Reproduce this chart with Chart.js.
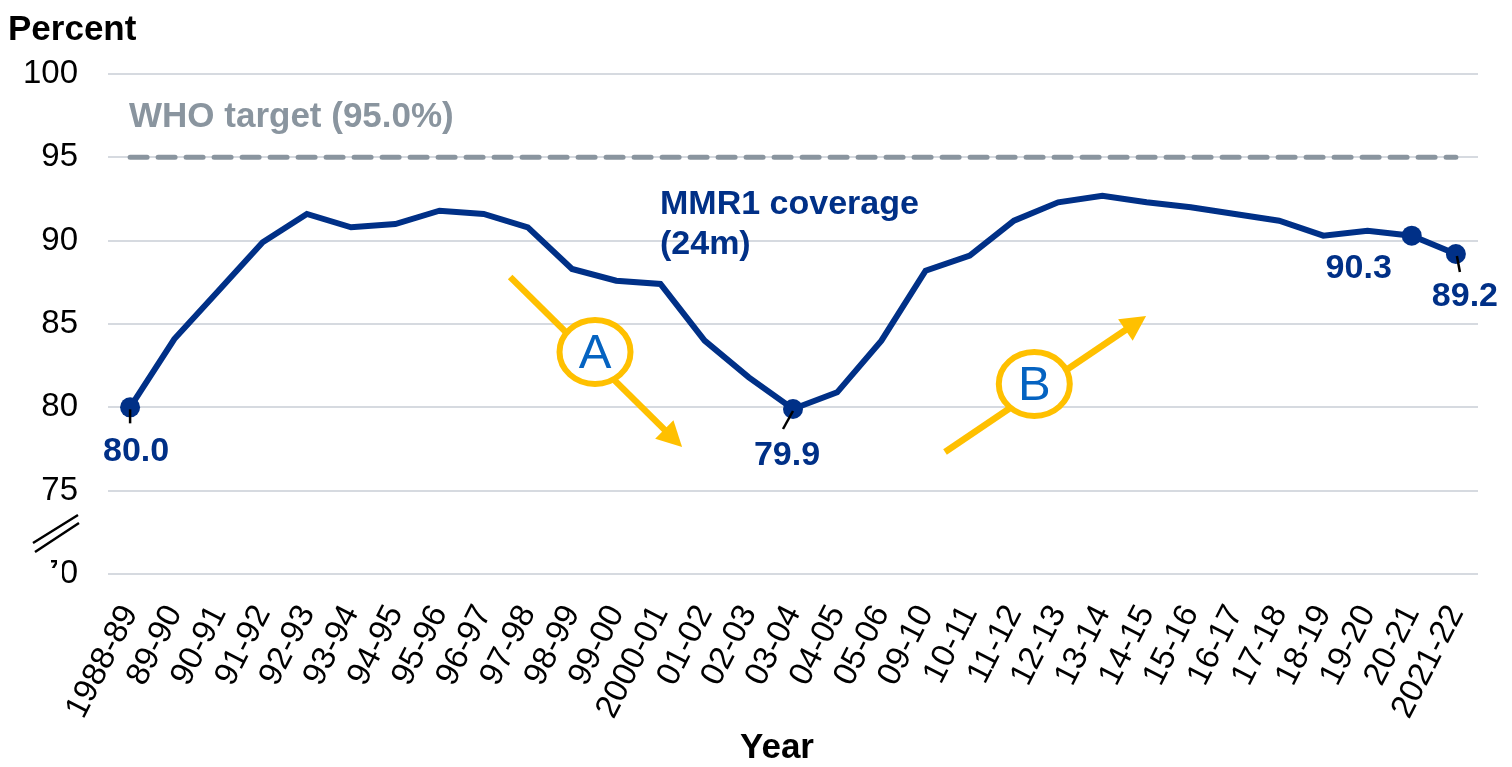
<!DOCTYPE html>
<html>
<head>
<meta charset="utf-8">
<script src="https://cdn.jsdelivr.net/npm/chart.js@4.4.1/dist/chart.umd.min.js"></script>
<style>
  html, body { margin: 0; padding: 0; background: #fff; }
</style>
</head>
<body>
<canvas id="chart" width="1512" height="767"></canvas>
<script>
// data
const years = ['1988-89', '89-90', '90-91', '91-92', '92-93', '93-94', '94-95', '95-96', '96-97', '97-98',
  '98-99', '99-00', '2000-01', '01-02', '02-03', '03-04', '04-05', '05-06', '09-10', '10-11',
  '11-12', '12-13', '13-14', '14-15', '15-16', '16-17', '17-18', '18-19', '19-20', '20-21', '2021-22'];
const coverage = [80.0, 84.1, 87.0, 89.9, 91.6, 90.8, 91.0, 91.8, 91.6, 90.8,
  88.3, 87.6, 87.4, 84.0, 81.8, 79.9, 80.9, 84.0, 88.2, 89.1,
  91.2, 92.3, 92.7, 92.3, 92.0, 91.6, 91.2, 90.3, 90.6, 90.3, 89.2];
const whoTarget = 95.0;
const labelledPoints = [0, 15, 29, 30];
const yMin = 70;
const yMax = 100;
const yStep = 5;

const FONT = "'Liberation Sans', Arial, sans-serif";
const NAVY = '#003087';
const GREY = '#8A959F';
const YELLOW = '#FFC000';
const LETTER_BLUE = '#0563C1';

// where each value label sits relative to its point, plus the short leader line
const labelPlacement = {
  0: { dx: 6, dy: 44, leader: [0, 2, 0, 16] },
  15: { dx: -6, dy: 47, leader: [0, 2, -10, 20] },
  29: { dx: -53, dy: 33, leader: null },
  30: { dx: 9, dy: 43, leader: [1, 2, 4, 18] }
};

// trend arrows, in (category index, percent) coordinates
const trendArrows = [
  { letter: 'A', from: [8.6, 87.82], to: [12.49, 77.62], circle: [10.52, 83.32] },
  { letter: 'B', from: [18.44, 77.32], to: [22.99, 85.48], circle: [20.46, 81.4] }
];

const extrasPlugin = {
  id: 'extras',
  afterDatasetsDraw(chart) {
    const { ctx, scales: { x, y } } = chart;
    const meta = chart.getDatasetMeta(0);
    ctx.save();

    // arrows + lettered circles
    trendArrows.forEach(a => {
      const x1 = x.getPixelForValue(a.from[0]), y1 = y.getPixelForValue(a.from[1]);
      const x2 = x.getPixelForValue(a.to[0]), y2 = y.getPixelForValue(a.to[1]);
      const ang = Math.atan2(y2 - y1, x2 - x1);
      const head = 25, half = 13;
      ctx.strokeStyle = YELLOW;
      ctx.fillStyle = YELLOW;
      ctx.lineWidth = 6.5;
      ctx.beginPath();
      ctx.moveTo(x1, y1);
      ctx.lineTo(x2 - Math.cos(ang) * head * 0.8, y2 - Math.sin(ang) * head * 0.8);
      ctx.stroke();
      ctx.beginPath();
      ctx.moveTo(x2, y2);
      ctx.lineTo(x2 - Math.cos(ang) * head - Math.sin(ang) * half, y2 - Math.sin(ang) * head + Math.cos(ang) * half);
      ctx.lineTo(x2 - Math.cos(ang) * head + Math.sin(ang) * half, y2 - Math.sin(ang) * head - Math.cos(ang) * half);
      ctx.closePath();
      ctx.fill();

      const cx = x.getPixelForValue(a.circle[0]), cy = y.getPixelForValue(a.circle[1]);
      ctx.beginPath();
      ctx.ellipse(cx, cy, 35.5, 32, 0, 0, Math.PI * 2);
      ctx.fillStyle = '#fff';
      ctx.fill();
      ctx.lineWidth = 6;
      ctx.stroke();
      ctx.fillStyle = LETTER_BLUE;
      ctx.font = '49px ' + FONT;
      ctx.textAlign = 'center';
      ctx.textBaseline = 'middle';
      ctx.fillText(a.letter, cx, cy + 2);
    });

    // value labels with leader lines
    labelledPoints.forEach(i => {
      const pt = meta.data[i];
      const p = labelPlacement[i];
      if (p.leader) {
        ctx.strokeStyle = '#000';
        ctx.lineWidth = 2.5;
        ctx.beginPath();
        ctx.moveTo(pt.x + p.leader[0], pt.y + p.leader[1]);
        ctx.lineTo(pt.x + p.leader[2], pt.y + p.leader[3]);
        ctx.stroke();
      }
      ctx.fillStyle = NAVY;
      ctx.font = 'bold 34px ' + FONT;
      ctx.textAlign = 'center';
      ctx.textBaseline = 'middle';
      ctx.fillText(coverage[i].toFixed(1), pt.x + p.dx, pt.y + p.dy);
    });

    // series labels
    ctx.textAlign = 'left';
    ctx.textBaseline = 'middle';
    ctx.font = 'bold 35px ' + FONT;
    ctx.fillStyle = GREY;
    ctx.fillText('WHO target (' + whoTarget.toFixed(1) + '%)', 129, y.getPixelForValue(whoTarget) - 40);
    ctx.fillStyle = NAVY;
    ctx.font = 'bold 34px ' + FONT;
    ctx.fillText('MMR1 coverage', 660, 205);
    ctx.fillText('(24m)', 660, 245);
    ctx.restore();
  },
  afterDraw(chart) {
    const { ctx, scales: { y } } = chart;
    ctx.save();
    // axis titles
    ctx.fillStyle = '#000';
    ctx.font = 'bold 35px ' + FONT;
    ctx.textAlign = 'left';
    ctx.textBaseline = 'middle';
    ctx.fillText('Percent', 8, 30);
    ctx.textAlign = 'center';
    ctx.fillText('Year', 777, 748);

    // axis break: mask most of the bottom tick's first digit, then the double slash
    const y70 = y.getPixelForValue(yMin);
    ctx.fillStyle = '#fff';
    ctx.beginPath();
    ctx.moveTo(36, y70 - 18);
    ctx.lineTo(51, y70 - 18);
    ctx.lineTo(51, y70 - 6);
    ctx.lineTo(57, y70 - 6);
    ctx.lineTo(57, y70 - 18);
    ctx.lineTo(62, y70 - 18);
    ctx.lineTo(62, y70 + 18);
    ctx.lineTo(36, y70 + 18);
    ctx.closePath();
    ctx.fill();
    ctx.strokeStyle = '#000';
    ctx.lineWidth = 2.5;
    ctx.beginPath();
    ctx.moveTo(33, y70 - 31);
    ctx.lineTo(78, y70 - 59);
    ctx.moveTo(35, y70 - 22);
    ctx.lineTo(79, y70 - 51);
    ctx.stroke();
    ctx.restore();
  }
};

new Chart(document.getElementById('chart'), {
  type: 'line',
  data: {
    labels: years,
    datasets: [
      {
        label: 'MMR1 coverage (24m)',
        data: coverage,
        borderColor: NAVY,
        backgroundColor: NAVY,
        borderWidth: 6,
        tension: 0,
        pointRadius: ctx => labelledPoints.includes(ctx.dataIndex) ? 10 : 0,
        pointHoverRadius: 0,
        pointBorderWidth: 0,
        order: 1
      },
      {
        label: 'WHO target',
        data: years.map(() => whoTarget),
        borderColor: GREY,
        borderWidth: 5,
        borderDash: [17, 11],
        borderCapStyle: 'round',
        pointRadius: 0,
        order: 2
      }
    ]
  },
  options: {
    responsive: false,
    animation: false,
    devicePixelRatio: 1,
    layout: { padding: { top: 74, right: 34, left: 0, bottom: 0 } },
    plugins: {
      legend: { display: false },
      tooltip: { enabled: false },
      title: { display: false }
    },
    scales: {
      x: {
        type: 'category',
        offset: true,
        grid: { display: false },
        border: { display: false },
        ticks: {
          autoSkip: false,
          minRotation: 63,
          maxRotation: 63,
          padding: 17,
          color: '#000',
          font: { family: FONT, size: 33 }
        },
        afterFit(scale) { scale.height = 193; }
      },
      y: {
        min: yMin,
        max: yMax,
        grid: { color: '#D6DAE0', lineWidth: 2, drawTicks: false },
        border: { display: false },
        ticks: {
          stepSize: yStep,
          padding: 30,
          color: '#000',
          font: { family: FONT, size: 33 }
        },
        afterFit(scale) { scale.width = 108; }
      }
    }
  },
  plugins: [extrasPlugin]
});
</script>
</body>
</html>
